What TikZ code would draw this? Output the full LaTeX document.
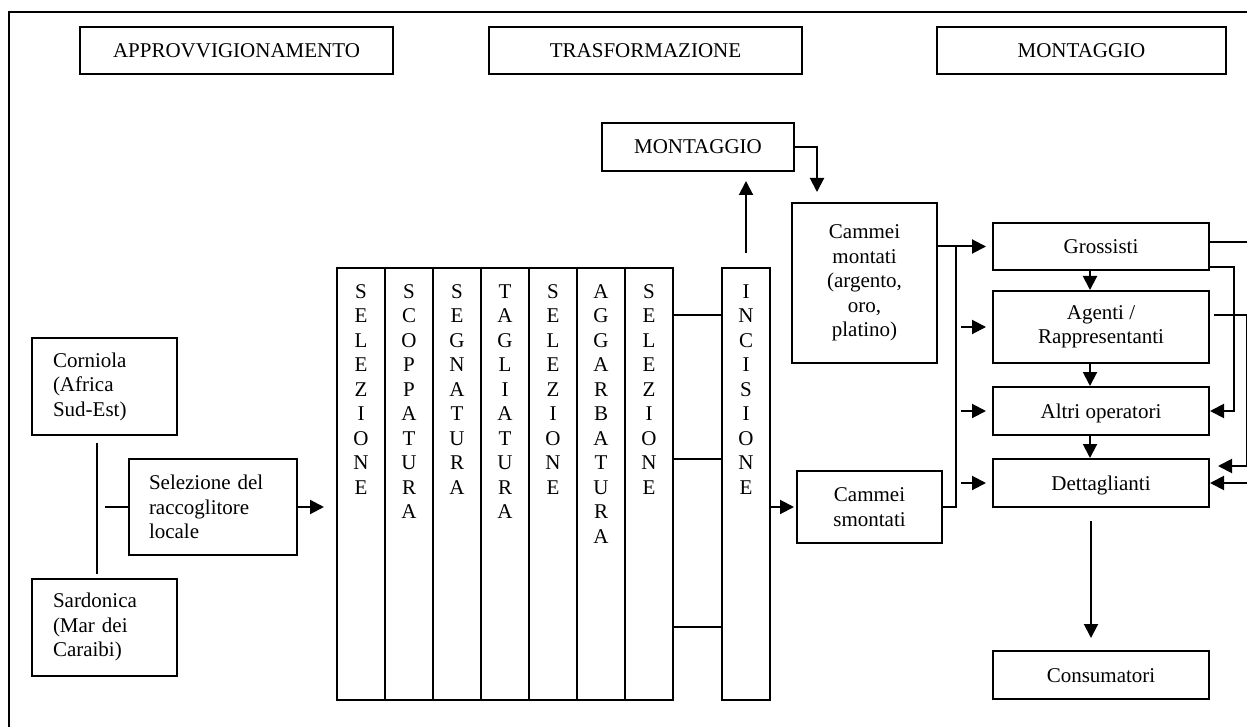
\documentclass[tikz,border=0pt]{standalone}
\usepackage{fontspec}
\setmainfont{Liberation Serif}
\usetikzlibrary{arrows.meta,positioning,calc}
\tikzset{
  box/.style={draw, line width=1pt, inner sep=0pt, align=center, font=\fontsize{10.5}{12.25}\selectfont},
  one/.style={text height=7pt, text depth=0pt},
  hdr/.style={box, one, minimum height=23.5pt},
  lbox/.style={box, align=left, inner xsep=10.5pt, text width=51.5pt, minimum height=48.5pt},
  chan/.style={box, minimum width=108pt, minimum height=24pt},
  stagebox/.style={box, minimum width=24pt, minimum height=216pt, anchor=north},
  vtxt/.style={inner sep=0pt, align=center, anchor=north, font=\fontsize{10.5}{12.25}\selectfont},
  ar/.style={-{Triangle[length=7pt,width=7pt]}, line width=1pt},
  ln/.style={line width=1pt},
}
\begin{document}
\begin{tikzpicture}[x=0.5pt,y=-0.5pt]
  \useasboundingbox (0,0) rectangle (1247,727);
  \clip (0,0) rectangle (1247,727);
  \draw[ln] (9,740) -- (9,12) -- (1260,12);
  \node[hdr, minimum width=156.5pt] (hApprov) at (236.5,50.5) {APPROVVIGIONAMENTO};
  \node[hdr, minimum width=156.5pt] (hTrasf) at (645.5,51) {TRASFORMAZIONE};
  \node[hdr, minimum width=144.5pt] (hMont) at (1081.5,50.5) {MONTAGGIO};

  \node[lbox] (corniola) at (104.5,386.5) {Corniola\\(Africa\\Sud-Est)};
  \node[lbox] (sardonica) at (104.5,627) {Sardonica\\(Mar dei\\Caraibi)};
  \node[lbox, text width=64pt, inner xsep=10pt, minimum height=48pt] (raccoglitore) at (213,507) {Selezione del\\raccoglitore\\locale};
  \coordinate (fork) at (105,507);
  \draw[ln] ([xshift=-3.75pt,yshift=-3.5pt]corniola.south) -- ([xshift=-3.75pt,yshift=2pt]sardonica.north);
  \draw[ln] (fork) -- (raccoglitore.west);

  \foreach \w [count=\i from 0] in {{S\\E\\L\\E\\Z\\I\\O\\N\\E},{S\\C\\O\\P\\P\\A\\T\\U\\R\\A},{S\\E\\G\\N\\A\\T\\U\\R\\A},{T\\A\\G\\L\\I\\A\\T\\U\\R\\A},{S\\E\\L\\E\\Z\\I\\O\\N\\E},{A\\G\\G\\A\\R\\B\\A\\T\\U\\R\\A},{S\\E\\L\\E\\Z\\I\\O\\N\\E}}{
    \node[stagebox] (s\i) at (361+48*\i,267) {};
    \node[vtxt] (t\i) at ([yshift=-8.5pt]s\i.north) {\w};
  }
  \node[stagebox] (incisione) at (746,267) {};
  \node[vtxt] (tInc) at ([yshift=-8.5pt]incisione.north) {I\\N\\C\\I\\S\\I\\O\\N\\E};
  \node[box, one, minimum width=96pt, minimum height=24pt] (montaggio) at (698,147) {MONTAGGIO};
  \draw[ar, shorten >=6pt] (raccoglitore.east) -- (s0.west |- raccoglitore.east);
  \foreach \y in {315,459,627}
    \draw[ln] (s6.east |- 0,\y) -- (incisione.west |- 0,\y);
  \draw[ar, shorten <=7pt, shorten >=4.5pt] (incisione.north) -- (incisione.north |- montaggio.south);

  \node[box, minimum width=72.5pt, minimum height=80pt] (cMontati) at (864.5,283) {Cammei\\montati\\(argento,\\oro,\\platino)};
  \node[box, minimum width=72.5pt, minimum height=36pt] (cSmontati) at (869.5,507) {Cammei\\smontati};
  \draw[ar, shorten >=5pt] (montaggio.east) -| ([xshift=13pt]cMontati.north west);
  \draw[ar, shorten >=1pt] (incisione.east |- cSmontati.west) -- (cSmontati.west);

  \node[chan, one, minimum height=23.5pt] (grossisti) at (1101,246.5) {Grossisti};
  \node[chan, minimum height=36pt] (agenti) at (1101,327) {Agenti /\\Rappresentanti};
  \node[chan, one] (altri) at (1101,411) {Altri operatori};
  \node[chan, one] (dettaglianti) at (1101,483) {Dettaglianti};
  \node[chan, one] (consumatori) at (1101,675) {Consumatori};

  \draw[ar, shorten >=3pt] (cMontati.east |- grossisti.west) -- (grossisti.west);
  \draw[ln] (cSmontati.east) -| ([xshift=9pt]cMontati.east |- grossisti.west);
  \foreach \n in {agenti,altri,dettaglianti}
    \draw[ar, shorten >=3pt] ([xshift=-15.5pt]\n.west) -- (\n.west);
  \foreach \a/\b in {grossisti/agenti,agenti/altri,altri/dettaglianti}
    \draw[ar] ([xshift=-5.5pt]\a.south) -- ([xshift=-5.5pt]\b.north);
  \draw[ar, shorten <=6.5pt, shorten >=6pt] ([xshift=-5pt]dettaglianti.south) -- ([xshift=-5pt]consumatori.north);

  \draw[ar] ([yshift=2.25pt]grossisti.east) -- ++(30pt,0) |- (dettaglianti.east);
  \draw[ar] ([yshift=-10.25pt]grossisti.east) -- ++(12pt,0) |- (altri.east);
  \draw[ar, shorten >=4pt] ([xshift=2pt,yshift=6pt]agenti.east) -- ([xshift=18.5pt,yshift=6pt]agenti.east) |- ([yshift=8.5pt]dettaglianti.east);
\end{tikzpicture}
\end{document}
